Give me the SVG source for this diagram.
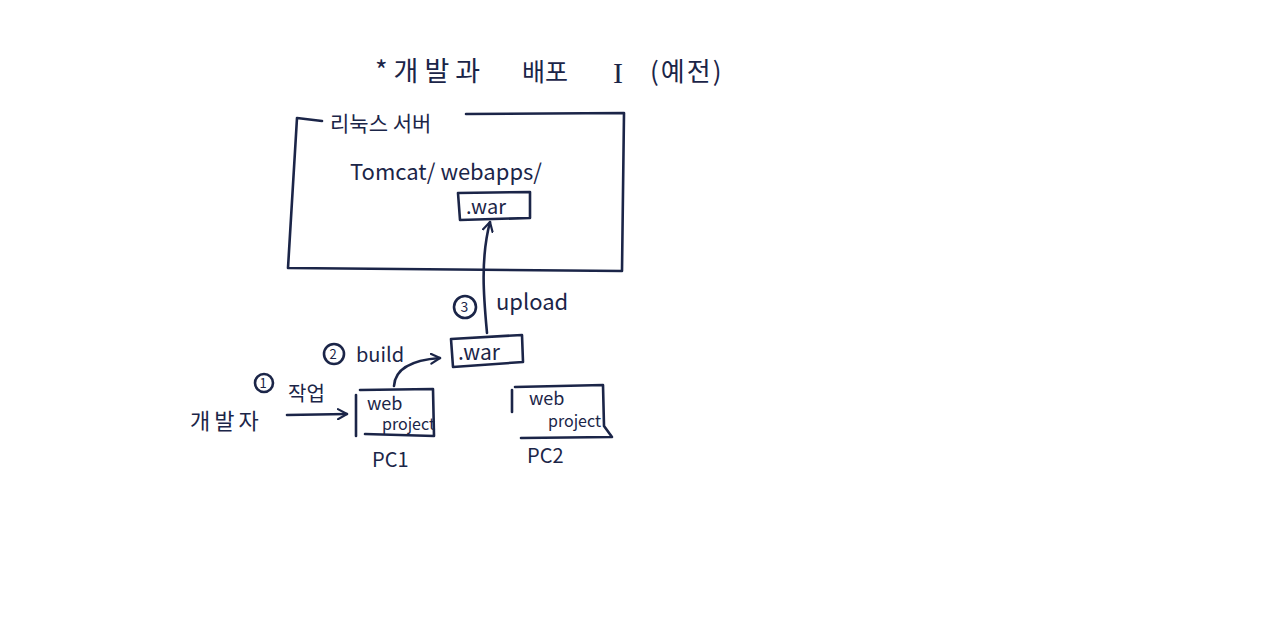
<svg xmlns="http://www.w3.org/2000/svg" width="1280" height="635" viewBox="0 0 1280 635">
<defs>
<style>
.ink{fill:none;stroke:#1b2548;stroke-width:2.6;stroke-linecap:round;stroke-linejoin:round}
.t{fill:#1b2548;font-family:"Noto Sans CJK KR","Noto Sans",sans-serif;font-size:20px}
</style>
<marker id="ah" viewBox="0 0 12 12" refX="10" refY="6" markerWidth="12" markerHeight="12" markerUnits="userSpaceOnUse" orient="auto">
<path d="M1,1 L10,6 L1,11" fill="none" stroke="#1b2548" stroke-width="2.2" stroke-linecap="round" stroke-linejoin="round"/>
</marker>
</defs>
<rect width="1280" height="635" fill="#ffffff"/>
<g id="title">
<text class="t" x="375" y="81" style="font-size:27px;letter-spacing:6px">*개발과</text>
<text class="t" x="522" y="81" style="font-size:25px">배포</text>
<text class="t" x="613" y="83" style="font-size:30px;font-family:'Liberation Serif',serif">I</text>
<text class="t" x="650" y="81" style="font-size:26px;letter-spacing:2px">(예전)</text>
</g>
<g id="linux-server">
<path class="ink" d="M322,121 L297,118 L288,268 L622,271 L624,113 L466,114"/>
<text class="t" x="330" y="131" style="font-size:21px">리눅스 서버</text>
<text class="t" x="350" y="180" style="font-size:22px">Tomcat/ webapps/</text>
</g>
<g id="war-server">
<path class="ink" d="M458,193 L530,192 L530,218 L460,220 Z"/>
<text class="t" x="466" y="214">.war</text>
</g>
<g id="war-local">
<path class="ink" d="M451,339 L522,335 L523,362 L453,367 Z"/>
<text class="t" x="458" y="360" style="font-size:21px">.war</text>
</g>
<g id="pc1">
<path class="ink" d="M356,395 L356,436"/>
<path class="ink" d="M360,390 L433,389 L434,436 L365,434"/>
<text class="t" x="367" y="410" style="font-size:18px">web</text>
<text class="t" x="382" y="430" style="font-size:16px">project</text>
<text class="t" x="372" y="467">PC1</text>
</g>
<g id="pc2">
<path class="ink" d="M512,390 L512,412"/>
<path class="ink" d="M515,387 L603,385 L604,426 L612,437 L521,438"/>
<text class="t" x="529" y="405" style="font-size:18px">web</text>
<text class="t" x="548" y="427" style="font-size:16px">project</text>
<text class="t" x="527" y="463">PC2</text>
</g>
<g id="developer">
<text class="t" x="190" y="429" style="font-size:22px;letter-spacing:4px">개발자</text>
</g>
<g id="labels">
<circle class="ink" cx="264" cy="383" r="9" stroke-width="2"/>
<text class="t" x="259.5" y="388" style="font-size:13px">1</text>
<text class="t" x="288" y="401">작업</text>
<circle class="ink" cx="334" cy="354" r="10" stroke-width="2"/>
<text class="t" x="329.5" y="359" style="font-size:13px">2</text>
<text class="t" x="356" y="362">build</text>
<circle class="ink" cx="465" cy="307" r="11" stroke-width="2"/>
<text class="t" x="460.5" y="312" style="font-size:14px">3</text>
<text class="t" x="496" y="310" style="font-size:22px">upload</text>
</g>
<g id="connectors">
<path class="ink" d="M287,415 L347,414" marker-end="url(#ah)"/>
<path class="ink" d="M394,386 C395,368 412,360 440,358" marker-end="url(#ah)"/>
<path class="ink" d="M487,333 C484,300 480,260 490,222" marker-end="url(#ah)"/>
</g>
</svg>
